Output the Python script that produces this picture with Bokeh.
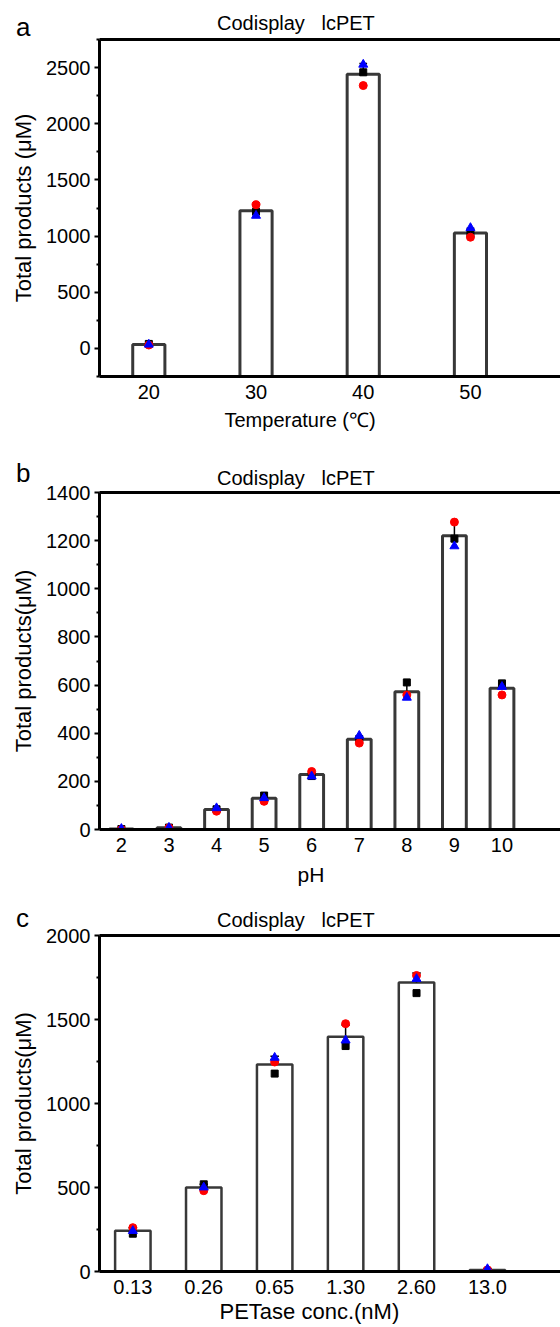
from bokeh.plotting import figure
from bokeh.models import Range1d, FixedTicker, LinearAxis, Title, Div
from bokeh.layouts import column
from bokeh.embed import file_html
from bokeh.resources import INLINE
import numpy as np

# ---------------- data ----------------
# panel a: temperature
temp_x = [20, 30, 40, 50]
temp_black = [40, 1217, 2458, 1021]
temp_red = [30, 1279, 2340, 990]
temp_blue = [35, 1182, 2527, 1073]

# panel b: pH
ph_x = [2, 3, 4, 5, 6, 7, 8, 9, 10]
ph_black = [2, 8, 84, 141, 222, 376, 611, 1208, 607]
ph_red = [0, 7, 76, 117, 241, 359, 559, 1277, 559]
ph_blue = [3, 8, 89, 131, 221, 390, 548, 1177, 593]

# panel c: PETase concentration
conc_labels = ["0.13", "0.26", "0.65", "1.30", "2.60", "13.0"]
conc_black = [225, 519, 1178, 1342, 1657, 2]
conc_red = [261, 481, 1247, 1475, 1762, 10]
conc_blue = [242, 501, 1273, 1376, 1742, 15]

TITLE = "Codisplay   lcPET"
FONT = "Liberation Sans"
BAR_COLOR = "#383838"
LEFT = 99


def header(height, letter, letter_base, title_base):
    lt = letter_base - 0.8465 * 26
    tt = title_base - 0.8465 * 20
    html = (
        f'<div style="position:relative;width:560px;height:{height}px;overflow:visible;'
        f"font-family:'{FONT}',sans-serif;color:black;\">"
        f'<span style="position:absolute;left:16px;top:{lt:.1f}px;font-size:26px;'
        f'line-height:26px;white-space:pre;">{letter}</span>'
        f'<span style="position:absolute;left:217px;top:{tt:.1f}px;font-size:20px;'
        f'line-height:20px;white-space:pre;">{TITLE}</span>'
        f"</div>"
    )
    return Div(text=html, width=560, height=height, margin=0,
               styles={"overflow": "visible", "z-index": "10", "position": "relative"})


def make_panel(height, top, bottom, xr, yr, xticks, yticks, yminor, xlabel, ylabel,
               xs, black, red, blue, bar_w, bar_lw, xlabel_offset, xlabel_size,
               xlabel_standoff, xoverrides=None):
    p = figure(width=560, height=height, x_range=Range1d(*xr), y_range=Range1d(*yr),
               output_backend="svg", toolbar_location=None,
               min_border_left=LEFT, min_border_right=0,
               min_border_top=top, min_border_bottom=bottom)
    p.outline_line_color = None
    p.grid.visible = False
    p.background_fill_color = None
    p.border_fill_color = None

    reps = np.array([black, red, blue], dtype=float)
    means = reps.mean(axis=0)
    sds = reps.std(axis=0, ddof=1)
    xs = np.array(xs, dtype=float)

    # bars rise from the bottom of the value axis
    p.vbar(x=xs, top=means, bottom=yr[0], width=bar_w, fill_color="white",
           line_color=BAR_COLOR, line_width=bar_lw)
    # error bars (upper)
    p.segment(x0=xs, y0=means, x1=xs, y1=means + sds, line_color="black", line_width=1.5)
    cap = bar_w * 0.12
    p.segment(x0=xs - cap, y0=means + sds, x1=xs + cap, y1=means + sds,
              line_color="black", line_width=1.5)

    p.scatter(xs, black, marker="square", size=7, color="black")
    p.scatter(xs, red, marker="circle", size=8, color="#ff0000")
    p.scatter(xs, blue, marker="triangle", size=9, color="#0000ff")

    ax = p.xaxis[0]
    ax.ticker = FixedTicker(ticks=xticks)
    if xoverrides:
        ax.major_label_overrides = xoverrides
    ax.axis_line_width = 3
    ax.major_tick_line_color = None
    ax.major_tick_out = 0
    ax.major_tick_in = 0
    ax.minor_tick_line_color = None
    ax.major_label_text_font = FONT
    ax.major_label_text_font_size = "20px"
    ax.major_label_text_color = "black"
    ax.major_label_standoff = 8

    ay = p.yaxis[0]
    ay.ticker = FixedTicker(ticks=yticks, minor_ticks=yminor)
    ay.axis_line_width = 3
    ay.major_tick_out = 5
    ay.major_tick_in = 0
    ay.major_tick_line_width = 2
    ay.minor_tick_out = 3
    ay.minor_tick_in = 0
    ay.minor_tick_line_width = 2
    ay.major_label_text_font = FONT
    ay.major_label_text_font_size = "20px"
    ay.major_label_text_color = "black"
    ay.major_label_standoff = 4
    ay.axis_label = ylabel
    ay.axis_label_text_font = FONT
    ay.axis_label_text_font_size = "22px"
    ay.axis_label_text_font_style = "normal"
    ay.axis_label_text_color = "black"
    ay.axis_label_standoff = 7

    topax = LinearAxis(ticker=FixedTicker(ticks=[]), axis_line_width=3,
                       major_tick_out=0, major_tick_in=0, minor_tick_out=0,
                       minor_tick_in=0, major_label_standoff=0,
                       major_tick_line_color=None, minor_tick_line_color=None)
    p.add_layout(topax, "above")

    p.add_layout(Title(text=xlabel, align="left", offset=xlabel_offset,
                       vertical_align="top", standoff=xlabel_standoff,
                       text_font=FONT, text_font_size=xlabel_size,
                       text_font_style="normal", text_color="black"), "below")
    return p


ha = header(37, "a", 36, 30)
pa = make_panel(403, 2, 64, (15.4, 58.4), (-250, 2750), temp_x,
                [0, 500, 1000, 1500, 2000, 2500], [-250, 250, 750, 1250, 1750, 2250, 2750],
                "Temperature (\u2103)", "Total products (\u03bcM)",
                temp_x, temp_black, temp_red, temp_blue, 3.0, 3, 125, "20px", 14)

hb = header(40, "b", 42, 45)
pb = make_panel(417, 12, 68, (1.54, 11.23), (0, 1400), ph_x,
                [0, 200, 400, 600, 800, 1000, 1200, 1400],
                [100, 300, 500, 700, 900, 1100, 1300],
                "pH", "Total products(\u03bcM)",
                ph_x, ph_black, ph_red, ph_blue, 0.5, 3, 198, "21px", 16)

hc = header(26, "c", 30, 30)
conc_x = list(range(len(conc_labels)))
pc = make_panel(404, 12, 55, (-0.47, 6.03), (0, 2000), conc_x,
                [0, 500, 1000, 1500, 2000], [250, 750, 1250, 1750],
                "PETase conc.(nM)", "Total products(\u03bcM)",
                conc_x, conc_black, conc_red, conc_blue, 0.5, 2.5, 120, "22px", 4,
                xoverrides={i: s for i, s in enumerate(conc_labels)})

layout = column(ha, pa, hb, pb, hc, pc, spacing=0)
open("out.html", "w").write(file_html(layout, INLINE))
